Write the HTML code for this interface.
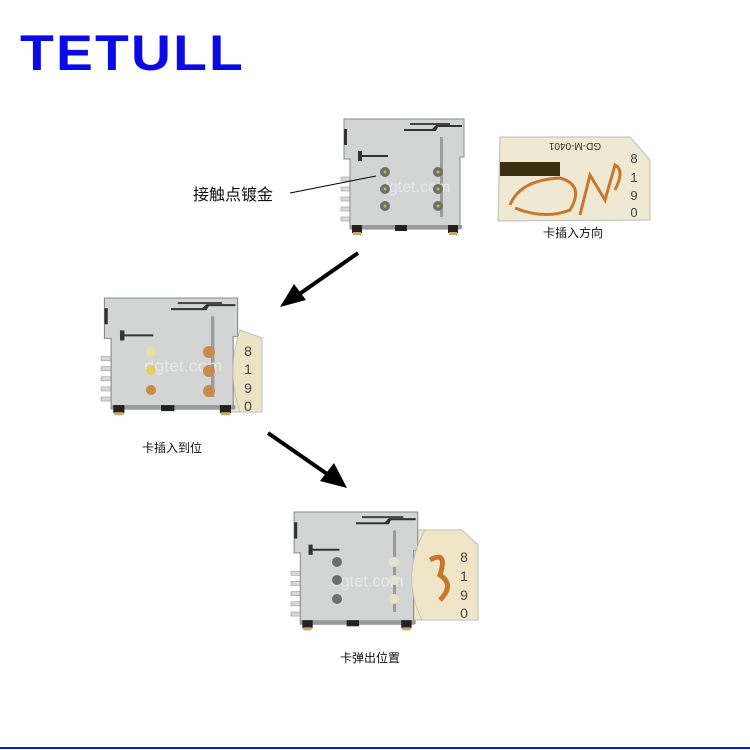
<!DOCTYPE html>
<html><head><meta charset="utf-8"><style>
html,body{margin:0;padding:0;background:#fff;}
svg{display:block}
text{font-family:"Liberation Sans","Noto Sans CJK SC",sans-serif;}
</style></head><body>
<svg width="750" height="750" viewBox="0 0 750 750" xmlns="http://www.w3.org/2000/svg">
<defs>
<g id="conn">
  <g fill="#d8d8d8" stroke="#999" stroke-width="0.6">
    <rect x="1" y="60" width="10" height="4"/><rect x="1" y="70" width="10" height="4"/>
    <rect x="1" y="80" width="10" height="4"/><rect x="1" y="90" width="10" height="4"/>
    <rect x="1" y="100" width="10" height="4"/>
  </g>
  <path d="M4 2 L124 2 L124 40 L120 40 L120 112 L10 112 L10 42 L4 42 Z" fill="#d3d4d4" stroke="#8a8a8a" stroke-width="1"/>
  <rect x="10" y="108" width="112" height="4" fill="#9a9a9a"/>
  <rect x="12" y="108" width="10" height="8" fill="#222"/>
  <rect x="13" y="115" width="8" height="3" fill="#c9a56a"/>
  <rect x="55" y="108" width="12" height="6" fill="#222"/>
  <rect x="108" y="108" width="10" height="8" fill="#222"/>
  <rect x="109" y="115" width="8" height="3" fill="#c9a56a"/>
  <rect x="4" y="12" width="3" height="16" fill="#333"/>
  <path d="M64 12 L92 12 L96 8 L122 8 L122 10 L98 10 L96 14 L64 14 Z" fill="#333"/>
  <rect x="70" y="6" width="40" height="2" fill="#444"/>
  <path d="M18 34 L22 34 L22 38 L48 38 L48 40 L22 40 L22 44 L18 44 Z" fill="#333"/>
  <rect x="100" y="20" width="3" height="80" fill="#777" opacity="0.6"/>
  <text x="40" y="75" font-size="16" fill="#eee" opacity="0.8">dgtet.com</text>
</g>
</defs>

<text x="20" y="70" font-size="50" font-weight="bold" fill="#0a0ae6" letter-spacing="2" textLength="225" lengthAdjust="spacingAndGlyphs">TETULL</text>

<g transform="translate(340,117)">
  <use href="#conn"/>
  <g fill="#6e6e6e"><circle cx="45" cy="55" r="5"/><circle cx="45" cy="72" r="5"/><circle cx="45" cy="89" r="5"/>
  <circle cx="98" cy="55" r="5"/><circle cx="98" cy="72" r="5"/><circle cx="98" cy="89" r="5"/></g>
  <g fill="#d4b040"><circle cx="45" cy="55" r="1.5"/><circle cx="45" cy="72" r="1.5"/><circle cx="45" cy="89" r="1.5"/>
  <circle cx="98" cy="55" r="1.5"/><circle cx="98" cy="72" r="1.5"/><circle cx="98" cy="89" r="1.5"/></g>
</g>
<line x1="290" y1="193" x2="376" y2="176" stroke="#000" stroke-width="1"/>
<text x="193" y="200" font-size="16" fill="#111">接触点镀金</text>

<path d="M500 137 L630 137 L650 160 L650 220 L498 221 Z" fill="#efe8d2" stroke="#bbb" stroke-width="1"/>
<text x="575" y="149" font-size="10" fill="#333" transform="rotate(180 575 146)" text-anchor="middle">GD-M-0401</text>
<rect x="500" y="162" width="60" height="14" fill="#3a3010"/>
<path d="M510 205 Q520 180 560 178 Q585 185 570 210 Q545 220 515 208" fill="none" stroke="#c8782e" stroke-width="3"/>
<path d="M580 215 L590 175 L605 200 L615 165 Q625 170 615 190" fill="none" stroke="#c8782e" stroke-width="3"/>
<text x="634" y="163" font-size="13" fill="#444" text-anchor="middle">8</text>
<text x="634" y="182" font-size="13" fill="#444" text-anchor="middle">1</text>
<text x="634" y="200" font-size="13" fill="#444" text-anchor="middle">9</text>
<text x="634" y="217" font-size="13" fill="#444" text-anchor="middle">0</text>
<text x="573" y="237" font-size="12" fill="#111" text-anchor="middle">卡插入方向</text>

<line x1="358" y1="253" x2="298" y2="295" stroke="#000" stroke-width="4"/>
<path d="M280 307 L294 284 L306 300 Z" fill="#000"/>

<path d="M240 330 L250 334 L262 338 L262 412 L230 412 Z" fill="#efe6c8" stroke="#bbb"/>
<g transform="translate(100,296) scale(1.11,1.01)">
  <use href="#conn"/>
</g>
<path d="M240 330 Q226 370 240 412 L262 412 L262 338 Z" fill="#ece3c4" stroke="#bbb" stroke-width="0.8"/>
<g font-size="14" fill="#444" text-anchor="middle">
<text x="248" y="356">8</text><text x="248" y="374">1</text><text x="248" y="393">9</text><text x="248" y="411">0</text></g>
<g fill="#c98a4a"><circle cx="151" cy="352" r="5" fill="#e8e0a0"/><circle cx="151" cy="370" r="5" fill="#e0d060"/><circle cx="151" cy="390" r="5"/>
<circle cx="209" cy="352" r="6"/><circle cx="209" cy="371" r="6"/><circle cx="209" cy="391" r="6"/></g>
<text x="172" y="452" font-size="12" fill="#111" text-anchor="middle">卡插入到位</text>

<line x1="268" y1="433" x2="330" y2="476" stroke="#000" stroke-width="4"/>
<path d="M347 488 L320 481 L334 463 Z" fill="#000"/>

<path d="M410 530 L462 530 L478 545 L478 620 L410 620 Z" fill="#efe6c8" stroke="#bbb"/>
<g transform="translate(290,510) scale(1.03,1.02)">
  <use href="#conn"/>
</g>
<path d="M425 530 Q400 575 422 620 L478 620 L478 545 L462 530 Z" fill="#efe6c8" stroke="#bbb" stroke-width="0.8"/>
<path d="M430 560 Q448 550 440 575 Q455 585 440 600" fill="none" stroke="#c8782e" stroke-width="5"/>
<g font-size="14" fill="#444" text-anchor="middle">
<text x="464" y="562">8</text><text x="464" y="581">1</text><text x="464" y="600">9</text><text x="464" y="618">0</text></g>
<g fill="#6e6e6e"><circle cx="337" cy="562" r="5"/><circle cx="337" cy="580" r="5"/><circle cx="337" cy="599" r="5"/></g>
<g fill="#e8e2cc"><circle cx="394" cy="562" r="5"/><circle cx="394" cy="580" r="5"/><circle cx="394" cy="599" r="5"/></g>
<text x="370" y="662" font-size="12" fill="#111" text-anchor="middle">卡弹出位置</text>

<rect x="0" y="747" width="750" height="2" fill="#0a14f0"/>
</svg>
</body></html>
